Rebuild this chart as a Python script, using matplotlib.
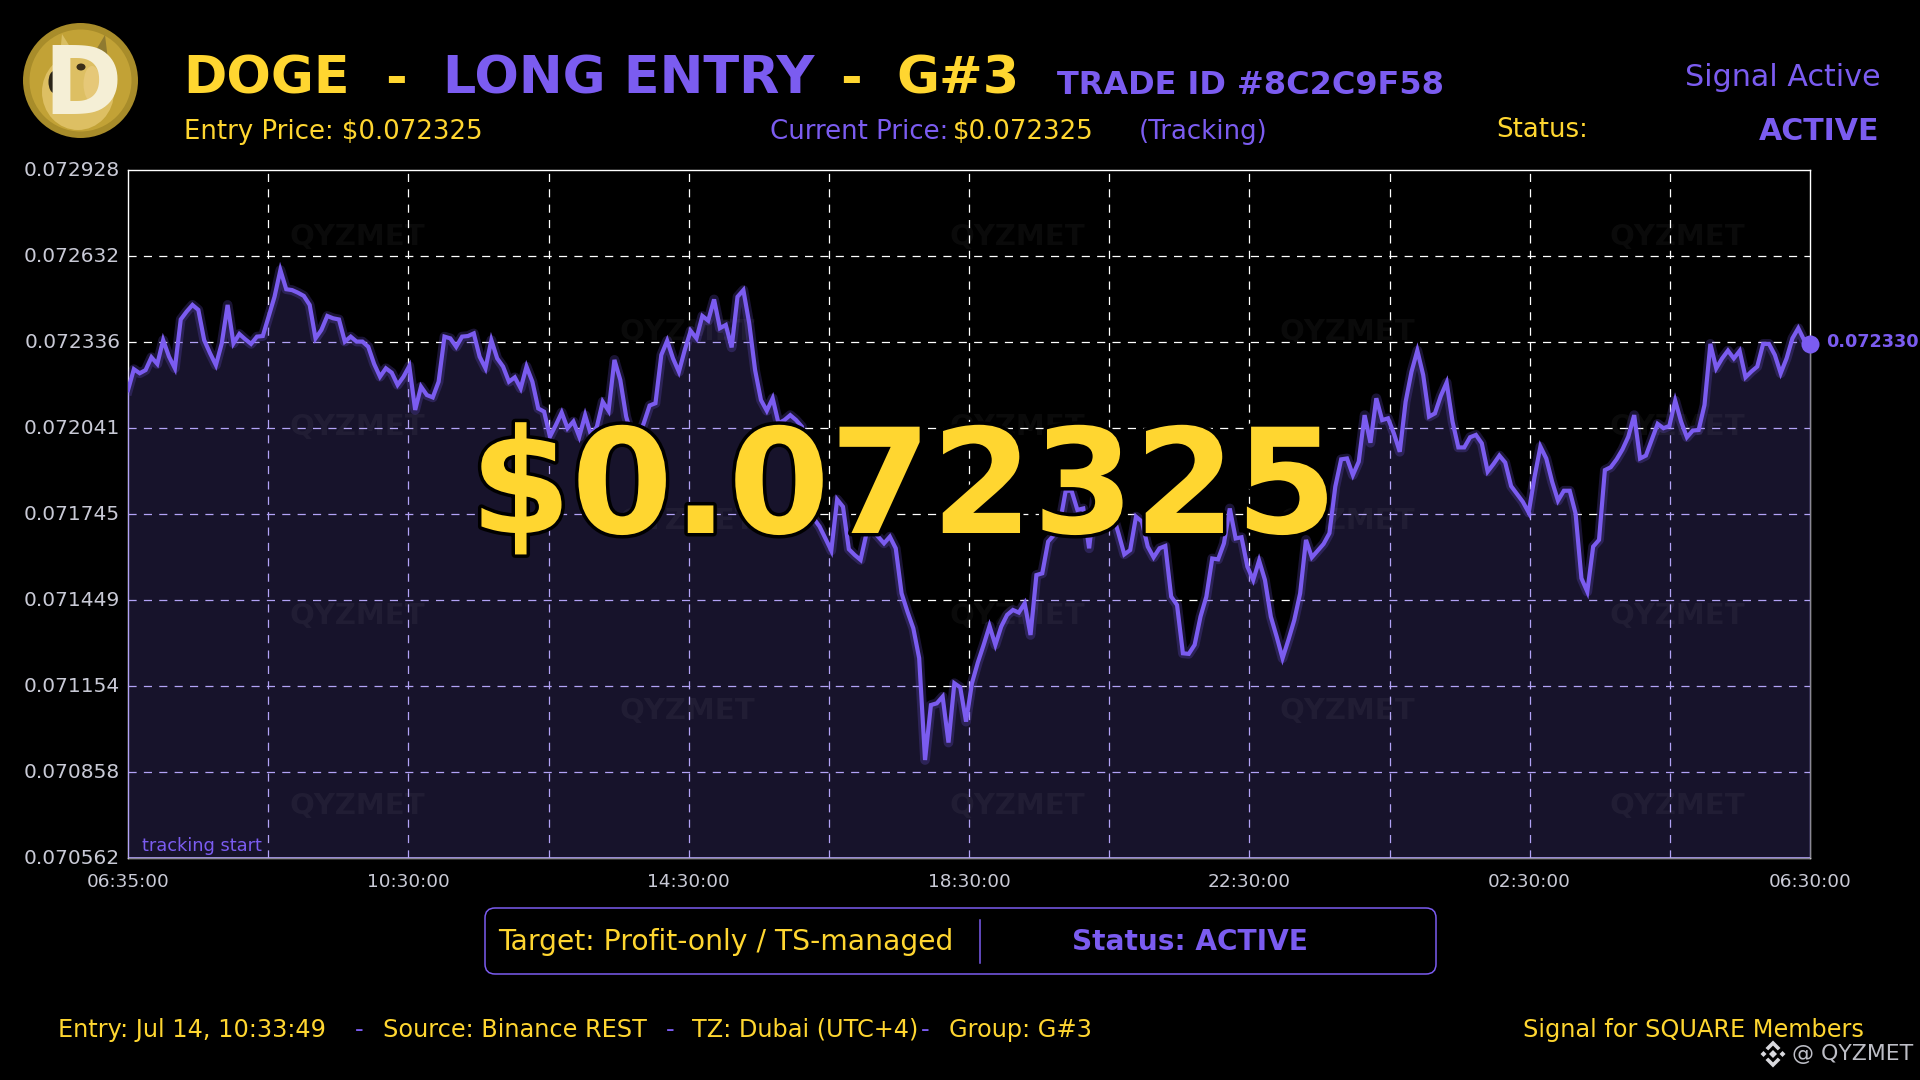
import numpy as np
import matplotlib
matplotlib.use("Agg")
import matplotlib.pyplot as plt
from matplotlib.patches import Circle, Ellipse, FancyBboxPatch, Polygon
from matplotlib.transforms import ScaledTranslation
import matplotlib.patheffects as pe

plt.rcParams['font.family'] = ['DejaVu Sans']

# ---------- data ----------
PRICE_UNIT = 1e-6
prices_micro = [
 72171,72243,72229,72240,72284,72261,72343,72286,72246,72414,72441,72464,72447,72343,72298,72257,
 72332,72464,72332,72364,72346,72330,72355,72357,72424,72492,72584,72518,72515,72506,72495,72464,
 72349,72378,72426,72418,72414,72338,72355,72338,72338,72320,72261,72217,72246,72231,72189,72217,
 72254,72103,72183,72154,72146,72200,72355,72349,72320,72355,72357,72366,72286,72246,72343,72280,
 72252,72200,72215,72177,72252,72200,72108,72097,72011,72051,72094,72040,72063,72011,72085,72017,
 72045,72131,72100,72275,72206,72080,72011,72005,72057,72118,72126,72292,72341,72280,72234,72309,
 72375,72349,72426,72410,72483,72384,72395,72318,72492,72515,72401,72240,72137,72100,72143,72057,
 72068,72085,72068,72045,71873,71730,71702,71661,71619,71795,71770,71624,71604,71587,71678,71690,
 71667,71644,71667,71627,71472,71409,71352,71249,70899,71088,71094,71117,70959,71163,71149,71031,
 71163,71234,71295,71360,71295,71358,71398,71415,71406,71438,71329,71535,71541,71650,71673,71713,
 71825,71825,71759,71764,71627,71805,71793,71782,71747,71679,71606,71621,71736,71719,71633,71596,
 71627,71635,71461,71432,71266,71264,71295,71392,71461,71592,71589,71644,71764,71661,71665,71564,
 71518,71585,71518,71392,71323,71249,71312,71380,71472,71656,71596,71619,71642,71679,71839,71933,
 71936,71879,71925,72085,71990,72143,72068,72074,72022,71959,72131,72234,72307,72223,72080,72091,
 72151,72197,72063,71974,71974,72009,72017,71988,71891,71917,71946,71922,71841,71814,71787,71750,
 71873,71977,71936,71856,71791,71825,71825,71747,71524,71478,71633,71656,71896,71906,71933,71967,
 72011,72085,71936,71946,72000,72055,72040,72048,72135,72063,72009,72032,72034,72120,72330,72246,
 72280,72307,72280,72306,72215,72235,72252,72330,72330,72292,72229,72280,72349,72384,72343,72330,
]
y_tick_labels = ["0.070562","0.070858","0.071154","0.071449","0.071745","0.072041","0.072336","0.072632","0.072928"]
x_tick_labels = ["06:35:00","","10:30:00","","14:30:00","","18:30:00","","22:30:00","","02:30:00","","06:30:00"]
entry_price = "$0.072325"
last_price = "0.072330"
brand = "QYZMET"

# ---------- colours ----------
BG = "#000000"
PURPLE = "#7B5CF0"
YELLOW = "#FFD630"
FILL = "#17132B"
LAV = "#B3A3F7"
TICK = "#C9CAD6"

prices = np.array(prices_micro) * PRICE_UNIT
idx = np.arange(len(prices))
ymin, ymax = float(y_tick_labels[0]), float(y_tick_labels[-1])
xmax = idx[-1]

W, H = 1920, 1080
fig = plt.figure(figsize=(W / 100, H / 100), dpi=100, facecolor=BG)
L, R, T, B = 128, 1810, 170, 858
ax = fig.add_axes([L / W, 1 - B / H, (R - L) / W, (B - T) / H], facecolor=BG)
ax.set_xlim(0, xmax)
ax.set_ylim(ymin, ymax)

xt = np.linspace(0, xmax, len(x_tick_labels))
yt = np.linspace(ymin, ymax, len(y_tick_labels))
ax.set_xticks(xt, x_tick_labels)
ax.set_yticks(yt, y_tick_labels)
ax.tick_params(length=0, colors=TICK)
ax.tick_params(axis='y', labelsize=14.5, pad=5.6)
ax.tick_params(axis='x', labelsize=13.3, pad=11)
nudge = ScaledTranslation(0, 1.2 / 100, fig.dpi_scale_trans)
for tick in ax.yaxis.get_major_ticks():
    tick.label1.set_transform(tick.label1.get_transform() + nudge)

for s in ax.spines.values():
    s.set_color("white"); s.set_linewidth(1.0); s.set_zorder(1.1)

dash = (0, (6.5, 5.8))
for v in xt[1:-1]:
    ax.axvline(v, color="white", lw=0.9, ls=dash, zorder=1)
for v in yt[1:-1]:
    ax.axhline(v, color="white", lw=0.9, ls=dash, zorder=1)

ax.fill_between(idx, prices, ymin, color=FILL, lw=0, zorder=1.5)

# the same grid, tinted where it lies under the area
verts = [(-0.5, ymin - 0.00002)] + [(-0.5, prices[0])] + list(zip(idx, prices)) + [(xmax + 0.5, prices[-1]), (xmax + 0.5, ymin - 0.00002)]
clip = Polygon(verts, closed=True, transform=ax.transData)
for v in xt[1:-1]:
    ax.axvline(v, color=LAV, lw=0.9, ls=dash, zorder=1.6).set_clip_path(clip)
for v in yt[1:-1]:
    ax.axhline(v, color=LAV, lw=0.9, ls=dash, zorder=1.6).set_clip_path(clip)
for v in (0, xmax):
    ax.axvline(v, color=LAV, lw=1.0, zorder=1.6).set_clip_path(clip)
ax.axhline(ymin, color=LAV, lw=1.2, zorder=1.6).set_clip_path(clip)

# watermarks (axes fraction)
for j, fy in enumerate(np.linspace(0.0978, 0.924, 7)):
    fxs = [0.1365, 0.5289, 0.9212] if j % 2 == 0 else [0.3327, 0.7251]
    for fx in fxs:
        ax.text(fx, 1 - fy, brand, transform=ax.transAxes, color="white", alpha=0.045,
                fontsize=21, fontweight="bold", ha="center", va="center", zorder=1.8)

ax.plot(idx, prices, color=PURPLE, lw=7, alpha=0.22, zorder=3, solid_joinstyle="round")
ax.plot(idx, prices, color=PURPLE, lw=3.0, zorder=3.2, solid_joinstyle="miter")
ax.plot([idx[-1]], [prices[-1]], "o", color=PURPLE, ms=13, mew=0, zorder=4, clip_on=False)

ax.text(0.0085, 0.005, "tracking start", transform=ax.transAxes, color=PURPLE, fontsize=12.8,
        ha="left", va="bottom", zorder=5)

# ---------- overlay in pixel space ----------
ov = fig.add_axes([0, 0, 1, 1], facecolor="none", zorder=10)
ov.set_xlim(0, W); ov.set_ylim(H, 0); ov.axis("off")

def txt(x, y, s, c, size, weight="normal", ha="left", va="baseline", **kw):
    return ov.text(x, y, s, color=c, fontsize=size, fontweight=weight, ha=ha, va=va, **kw)

# coin
cx, cy = 80.5, 80.5
ov.add_patch(Circle((cx, cy), 57.5, fc="#A88C2A", ec="none"))
ov.add_patch(Circle((cx, cy), 51, fc="#C2A236", ec="none"))
ov.add_patch(Polygon([(60, 56), (62, 34), (72, 50)], fc="#D9BE62", ec="none"))
ov.add_patch(Polygon([(96, 50), (105, 35), (108, 60)], fc="#8F7A30", ec="none"))
ov.add_patch(Ellipse((78, 92), 72, 76, fc="#DDBF63", ec="none"))
ov.text(43, 114, "D", color="#F5EFD6", fontsize=68, fontweight="bold", ha="left", va="baseline")
ov.add_patch(Ellipse((92, 84), 17, 36, fc="#E6C878", ec="none"))
ov.add_patch(Ellipse((54, 82), 11, 22, fc="#2A2418", ec="none"))
ov.add_patch(Ellipse((81, 67), 9, 7, fc="#3A2E18", ec="none"))

# header
t = 37.7
txt(183, 94, "DOGE", YELLOW, t, "bold")
txt(385, 94, "-", YELLOW, t, "bold")
txt(443, 94, "LONG ENTRY", PURPLE, t, "bold")
txt(840, 94, "-", YELLOW, t, "bold")
txt(896, 94, "G#3", YELLOW, t, "bold")
txt(1057, 94, "TRADE ID #8C2C9F58", PURPLE, 23.05, "bold")
txt(1881, 77, "Signal Active", PURPLE, 21.7, ha="right", va="center")

s2 = 18.75
txt(184, 139, "Entry Price: " + entry_price, YELLOW, s2)
txt(770, 139, "Current Price:", PURPLE, s2)
txt(953, 139, entry_price, YELLOW, s2)
txt(1139, 139, "(Tracking)", PURPLE, s2)
txt(1496, 137, "Status:", YELLOW, s2)
txt(1879, 140, "ACTIVE", PURPLE, 21.6, "bold", ha="right")

# last price label
txt(1826, 342, last_price, PURPLE, 12.7, "bold", va="center")

# big price
big = txt(903.5, 533, entry_price, YELLOW, 105, "bold", ha="center")
big.set_path_effects([pe.withStroke(linewidth=5, foreground="black")])

# status box
ov.add_patch(FancyBboxPatch((495, 918), 931, 46,
                            boxstyle="round,pad=10,rounding_size=10", fc=BG, ec=PURPLE, lw=1.1))
ov.plot([980, 980], [920, 963], color=PURPLE, lw=1.1)
txt(498, 942, "Target: Profit-only / TS-managed", YELLOW, 20.35, va="center")
txt(1190, 942, "Status: ACTIVE", PURPLE, 20.2, "bold", ha="center", va="center")

# footer
f = 17.3
txt(58, 1037, "Entry: Jul 14, 10:33:49", YELLOW, f)
txt(355, 1037, "-", PURPLE, f)
txt(383, 1037, "Source: Binance REST", YELLOW, f)
txt(666, 1037, "-", PURPLE, f)
txt(692, 1037, "TZ: Dubai (UTC+4)", YELLOW, f)
txt(921, 1037, "-", PURPLE, f)
txt(949, 1037, "Group: G#3", YELLOW, f)
txt(1864, 1037, "Signal for SQUARE Members", YELLOW, f, ha="right")

# brand mark
mx, my = 1773, 1054
GR = "#D9D9DE"
def diamond(x, y, r):
    ov.add_patch(Polygon([(x, y - r), (x + r, y), (x, y + r), (x - r, y)], fc=GR, ec="none"))
diamond(mx, my, 4)
diamond(mx - 9.5, my, 3)
diamond(mx + 9.5, my, 3)
for sgn in (-1, 1):
    ov.add_patch(Polygon([(mx, my + sgn * 13.5), (mx + 7.5, my + sgn * 6), (mx + 4.8, my + sgn * 3.6),
                          (mx, my + sgn * 8.4), (mx - 4.8, my + sgn * 3.6), (mx - 7.5, my + sgn * 6)],
                         fc=GR, ec="none"))
txt(1792, 1054, "@ " + brand, "#BDBEC6", 15.8, va="center")

fig.savefig("out.png", dpi=100, facecolor=BG)
